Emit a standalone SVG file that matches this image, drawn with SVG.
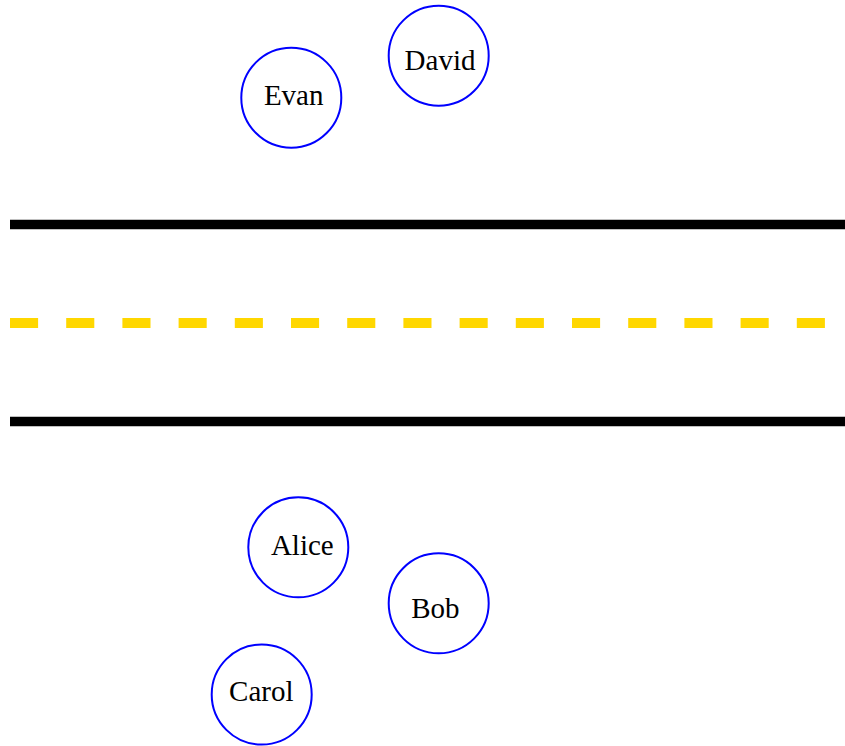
<svg xmlns="http://www.w3.org/2000/svg" width="845" height="746" viewBox="0 0 845 746">
<style>
.node circle{fill:none;stroke:#0000ff;stroke-width:2}
.node text{font-family:"Liberation Serif","Times New Roman",serif;font-size:29px;fill:#000;text-anchor:middle}
.edge{stroke:#000;stroke-width:9.5;fill:none}
.center{stroke:#ffd700;stroke-width:10;stroke-dasharray:28.1 28.1;fill:none}
</style>
<rect width="845" height="746" fill="#fff"/>
<g id="road">
<line class="edge" x1="10" y1="224.5" x2="845" y2="224.5"/>
<line class="center" x1="10" y1="323" x2="845" y2="323"/>
<line class="edge" x1="10" y1="421.5" x2="845" y2="421.5"/>
</g>
<g id="connectors"/>
<g id="Evan" class="node"><circle cx="291.3" cy="97.7" r="50"/><text x="293.7" y="105.3">Evan</text></g>
<g id="David" class="node"><circle cx="438.7" cy="55.7" r="50"/><text x="440" y="70">David</text></g>
<g id="Alice" class="node"><circle cx="298.3" cy="547.3" r="50"/><text x="302.3" y="555.3">Alice</text></g>
<g id="Bob" class="node"><circle cx="438.7" cy="603.3" r="50"/><text x="435.3" y="618">Bob</text></g>
<g id="Carol" class="node"><circle cx="261.7" cy="694.5" r="50"/><text x="261.3" y="701.3">Carol</text></g>
</svg>
